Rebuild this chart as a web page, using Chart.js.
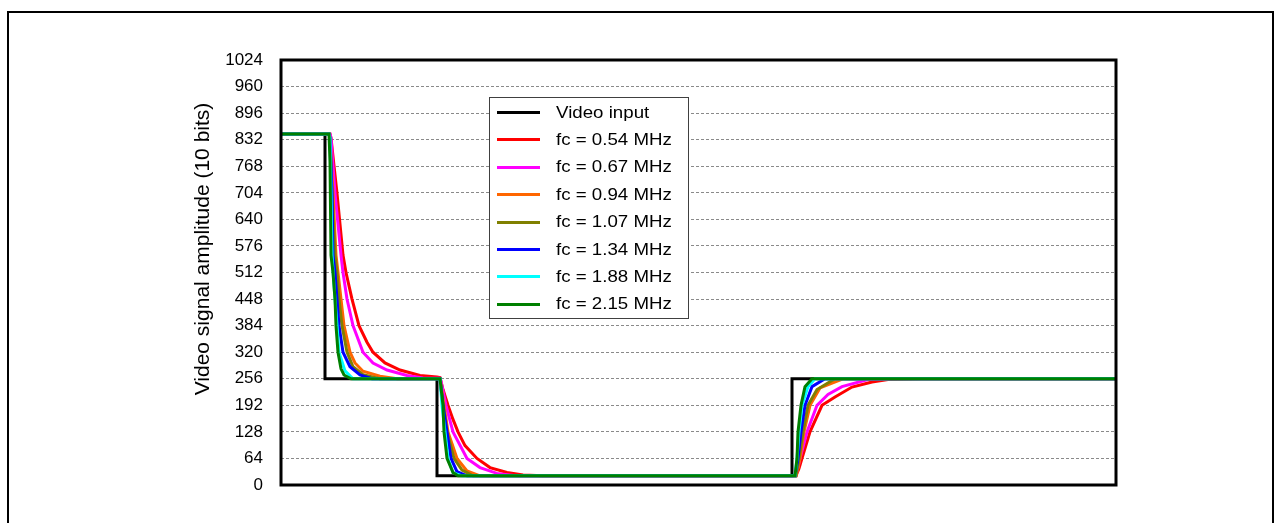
<!DOCTYPE html>
<html>
<head>
<meta charset="utf-8">
<script src="https://cdn.jsdelivr.net/npm/chart.js@4/dist/chart.umd.min.js"></script>
<style>
  html, body { margin: 0; padding: 0; background: #fff; }
  #wrap { position: relative; width: 1282px; height: 523px; overflow: hidden; }
  canvas { display: block; }
</style>
</head>
<body>
<div id="wrap"><canvas id="c" width="1282" height="523"></canvas></div>
<script>
// ---- data (x = sample position, y = 10-bit amplitude) ----
const seriesLabels = ['Video input', 'fc = 0.54 MHz', 'fc = 0.67 MHz', 'fc = 0.94 MHz',
  'fc = 1.07 MHz', 'fc = 1.34 MHz', 'fc = 1.88 MHz', 'fc = 2.15 MHz'];
const yTicks = [0, 64, 128, 192, 256, 320, 384, 448, 512, 576, 640, 704, 768, 832, 896, 960, 1024];
const yTitle = 'Video signal amplitude (10 bits)';

const videoInput = [[0,846],[44,846],[44,256],[156,256],[156,22],[511,22],[511,256],[835,256]];
const fc054 = [[0,846],[49,846],[50,836],[56,703],[62,554],[65,512],[71,448],[78,384],[86,344],[92,320],[104,294],[119,277],[139,264],[156,260],[159,259],[162,230],[167,192],[172,158],[177,128],[184,95],[196,64],[209,42],[226,30],[242,24],[262,22],[515,22],[518,40],[521,64],[529,128],[541,192],[554,212],[571,236],[591,248],[607,254],[640,256],[835,256]];
const fc067 = [[0,846],[49,846],[50,836],[54,703],[60,554],[62,512],[66,448],[72,384],[82,320],[92,294],[106,277],[126,264],[142,258],[159,257],[160,250],[165,192],[172,128],[186,64],[199,42],[216,28],[237,22],[515,22],[519,64],[526,128],[536,192],[547,218],[561,237],[587,254],[614,256],[835,256]];
const fc094 = [[0,846],[48,846],[49,836],[52,703],[55,554],[57,512],[60,448],[63,384],[69,320],[74,294],[82,274],[99,262],[116,256],[159,256],[163,192],[167,128],[176,64],[186,34],[199,22],[515,22],[519,64],[523,128],[529,192],[539,234],[562,256],[835,256]];
const fc107 = [[0,846],[48,846],[49,836],[51,703],[54,554],[56,512],[58,448],[61,384],[66,320],[72,285],[82,266],[99,256],[159,256],[162,192],[166,128],[173,64],[181,36],[192,22],[515,22],[518,64],[522,128],[527,192],[536,230],[554,256],[835,256]];
const fc134 = [[0,846],[48,846],[49,836],[51,703],[52,554],[54,512],[56,448],[58,384],[62,320],[69,285],[79,265],[91,256],[159,256],[162,192],[166,128],[170,64],[176,32],[186,22],[514,22],[517,64],[520,128],[524,192],[531,237],[544,256],[835,256]];
const fc188 = [[0,846],[48,846],[49,836],[50,703],[51,554],[53,480],[54,448],[56,384],[58,320],[64,275],[72,256],[159,256],[161,192],[164,128],[167,64],[172,30],[181,22],[514,22],[516,64],[518,128],[521,192],[527,237],[534,256],[835,256]];
const fc215 = [[0,846],[48,846],[49,780],[50,554],[52,512],[54,448],[55,384],[57,320],[60,280],[63,265],[70,256],[159,256],[162,192],[163,128],[166,64],[172,30],[177,22],[514,22],[516,64],[517,128],[520,192],[524,237],[531,256],[835,256]];

const allSeries = [videoInput, fc054, fc067, fc094, fc107, fc134, fc188, fc215];
const colors = ['#000000', '#FF0000', '#FF00FF', '#FF6600', '#808000', '#0000FF', '#00FFFF', '#008000'];

const FONT = '"Liberation Sans", Arial, sans-serif';

const datasets = allSeries.map((s, i) => ({
  label: seriesLabels[i],
  data: s.map(p => ({ x: p[0], y: p[1] })),
  borderColor: colors[i],
  backgroundColor: colors[i],
  borderWidth: 3,
  pointRadius: 0,
  tension: 0,
  fill: false,
  order: i === 0 ? 9 : 8 - i
}));

const framePlugin = {
  id: 'frames',
  beforeDraw(chart) {
    const ctx = chart.ctx;
    ctx.save();
    ctx.strokeStyle = '#000';
    ctx.lineWidth = 2;
    ctx.strokeRect(8, 12, 1265, 700);
    // y-axis title
    ctx.translate(203, 249);
    ctx.rotate(-Math.PI / 2);
    ctx.font = '21px ' + FONT;
    ctx.fillStyle = '#000';
    ctx.textAlign = 'center';
    ctx.textBaseline = 'middle';
    ctx.fillText(yTitle, 0, 0);
    ctx.restore();
  },
  afterDatasetsDraw(chart) {
    const { ctx, chartArea: a } = chart;
    ctx.save();
    ctx.strokeStyle = '#000';
    ctx.lineWidth = 3;
    ctx.strokeRect(a.left, a.top, a.right - a.left, a.bottom - a.top);
    ctx.restore();
  },
  afterDraw(chart) {
    // legend box drawn from dataset labels/colours
    const ctx = chart.ctx;
    const bx = 489, by = 97, bw = 199, bh = 221;
    ctx.save();
    ctx.fillStyle = '#fff';
    ctx.fillRect(bx, by, bw, bh);
    ctx.strokeStyle = '#404040';
    ctx.lineWidth = 1;
    ctx.strokeRect(bx + 0.5, by + 0.5, bw, bh);
    chart.data.datasets.forEach((ds, i) => {
      const y = 112 + i * 27.4;
      ctx.strokeStyle = ds.borderColor;
      ctx.lineWidth = 3;
      ctx.beginPath();
      ctx.moveTo(497, Math.round(y) + 0.5);
      ctx.lineTo(540, Math.round(y) + 0.5);
      ctx.stroke();
      ctx.save();
      ctx.translate(556, y + 1);
      ctx.scale(1.1, 1);
      ctx.font = '17px ' + FONT;
      ctx.textBaseline = 'middle';
      ctx.textAlign = 'left';
      ctx.fillStyle = '#000';
      ctx.fillText(ds.label, 0, 0);
      ctx.restore();
    });
    ctx.restore();
  }
};

new Chart(document.getElementById('c'), {
  type: 'line',
  data: { datasets },
  plugins: [framePlugin],
  options: {
    responsive: false,
    animation: false,
    layout: { padding: { left: 187, top: 60, right: 166, bottom: 38 } },
    plugins: { legend: { display: false }, tooltip: { enabled: false } },
    scales: {
      x: { type: 'linear', min: 0, max: 835, display: false },
      y: {
        type: 'linear', min: 0, max: 1024,
        afterFit(scale) { scale.width = 94; },
        afterBuildTicks(scale) { scale.ticks = yTicks.map(v => ({ value: v })); },
        ticks: { color: '#000', padding: 18, font: { family: FONT, size: 17 }, callback: v => String(v) },
        grid: { color: '#8a8a8a', lineWidth: 1, drawTicks: false },
        border: { display: false, dash: [3, 2] },
        title: { display: false }
      }
    }
  }
});
</script>
</body>
</html>
